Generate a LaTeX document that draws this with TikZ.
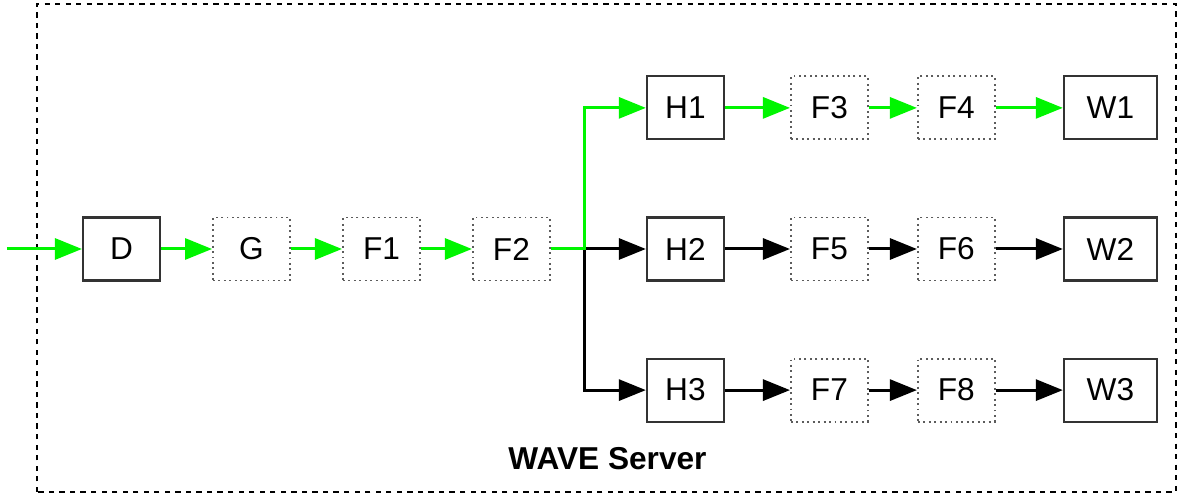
\documentclass[tikz,border=0pt]{standalone}
\usepackage{fontspec}
\setmainfont{Liberation Sans}
\usetikzlibrary{positioning}
\usetikzlibrary{arrows.meta}

\definecolor{flow}{RGB}{0,245,0}
\definecolor{edge}{RGB}{51,51,51}

\begin{document}
\begin{tikzpicture}[
    font=\fontsize{18}{20}\selectfont,
    hw/.style={draw=edge,line width=1.2pt,minimum width=1.54cm,minimum height=1.26cm,inner sep=0pt},
    sw/.style={draw=edge!80,dotted,line width=1.1pt,minimum width=1.54cm,minimum height=1.26cm,inner sep=0pt},
    ws/.style={hw,minimum width=1.86cm},
    link/.style={line width=1.7pt,-{Triangle[length=0.54cm,width=0.42cm]}},
    live/.style={link,draw=flow}]
  \useasboundingbox (0,0) rectangle (23.62,9.94);
  \draw[dashed,line width=0.8pt] (0.74,0.10) rectangle (23.52,9.86);

  \node[hw, name=d] at (2.43,4.96) {D};
  \node[sw, name=g,  right=1.02cm of d]  {G};
  \node[sw, name=f1, right=1.02cm of g]  {F1};
  \node[sw, name=f2, right=1.02cm of f1] {F2};
  \node[hw, name=h2, right=1.9cm of f2]  {H2};
  \node[hw, name=h1, above=1.52cm of h2] {H1};
  \node[hw, name=h3, below=1.52cm of h2] {H3};

  \node[sw, name=f3, right=1.3cm of h1]  {F3};
  \node[sw, name=f4, right=0.96cm of f3] {F4};
  \node[ws, name=w1, right=1.34cm of f4] {W1};
  \node[sw, name=f5, right=1.3cm of h2]  {F5};
  \node[sw, name=f6, right=0.96cm of f5] {F6};
  \node[ws, name=w2, right=1.34cm of f6] {W2};
  \node[sw, name=f7, right=1.3cm of h3]  {F7};
  \node[sw, name=f8, right=0.96cm of f7] {F8};
  \node[ws, name=w3, right=1.34cm of f8] {W3};

  \node[font=\fontsize{18}{20}\selectfont\bfseries, name=label] at (12.15,0.76) {WAVE Server};

  \coordinate[left=1.5cm of d] (in);
  \coordinate[right=0.68cm of f2] (fork);

  \draw[live] (in) -- (d);
  \draw[live] (d)  -- (g);
  \draw[live] (g)  -- (f1);
  \draw[live] (f1) -- (f2);

  \draw[link] (fork) -- (h2);
  \draw[link] (fork) |- (h3);
  \draw[live] (f2) -- (fork) |- (h1);

  \draw[live] (h1) -- (f3);
  \draw[live] (f3) -- (f4);
  \draw[live] (f4) -- (w1);
  \foreach \a/\b in {h2/f5, f5/f6, f6/w2, h3/f7, f7/f8, f8/w3}
    \draw[link] (\a) -- (\b);
\end{tikzpicture}
\end{document}
